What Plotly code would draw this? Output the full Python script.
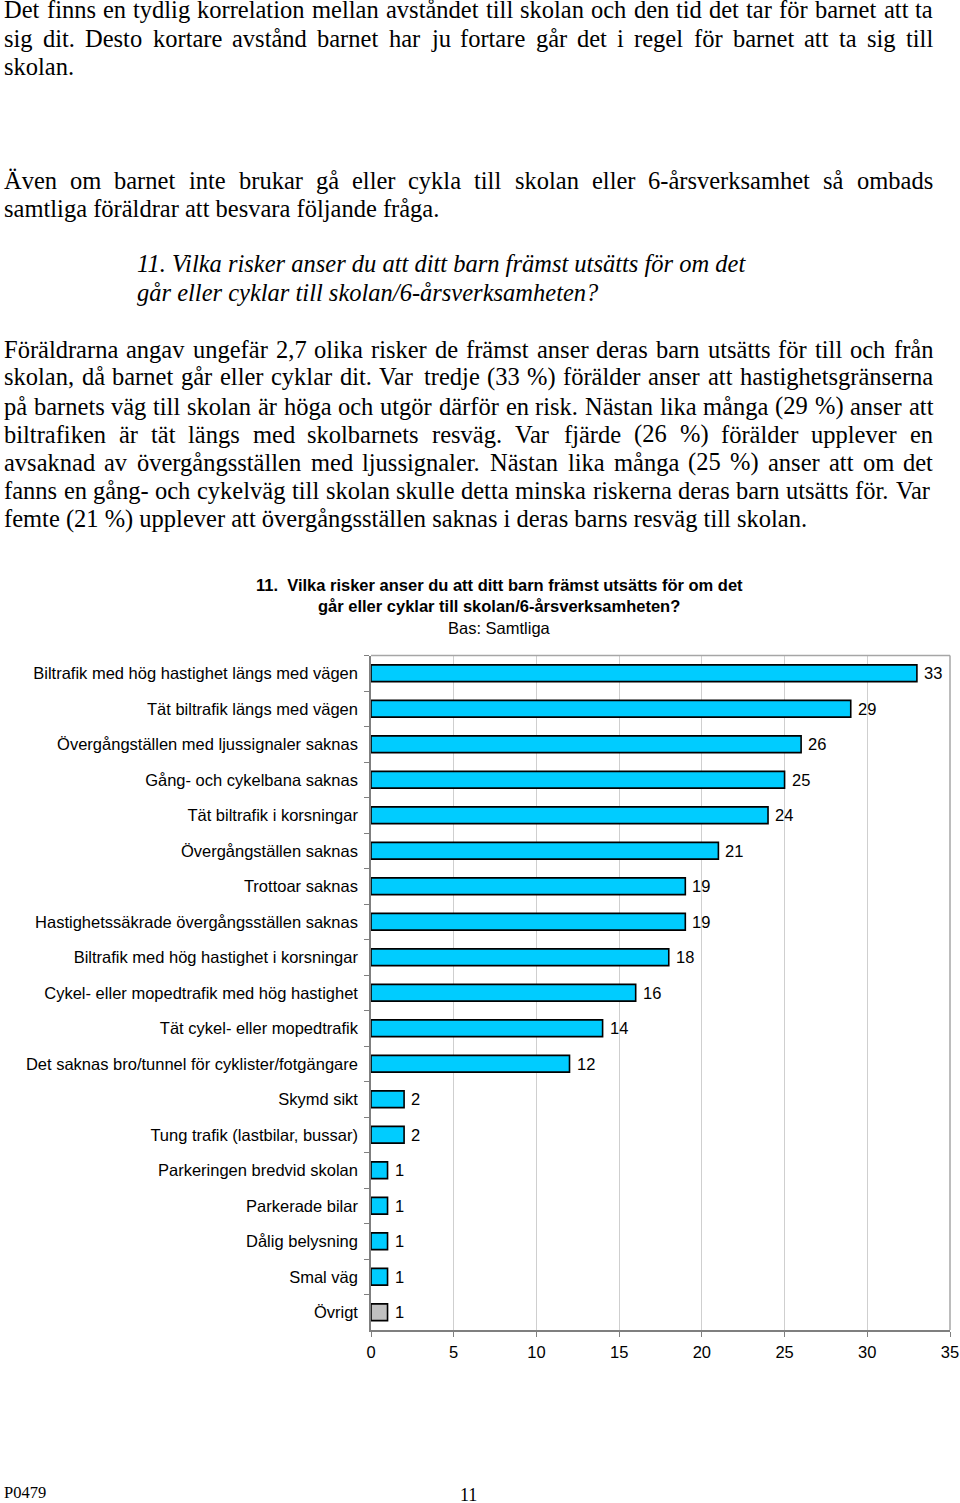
import plotly.graph_objects as go

W, H = 960, 1503

# ---------------- data ----------------
categories = [
    "Biltrafik med hög hastighet längs med vägen",
    "Tät biltrafik längs med vägen",
    "Övergångställen med ljussignaler saknas",
    "Gång- och cykelbana saknas",
    "Tät biltrafik i korsningar",
    "Övergångställen saknas",
    "Trottoar saknas",
    "Hastighetssäkrade övergångsställen saknas",
    "Biltrafik med hög hastighet i korsningar",
    "Cykel- eller mopedtrafik med hög hastighet",
    "Tät cykel- eller mopedtrafik",
    "Det saknas bro/tunnel för cyklister/fotgängare",
    "Skymd sikt",
    "Tung trafik (lastbilar, bussar)",
    "Parkeringen bredvid skolan",
    "Parkerade bilar",
    "Dålig belysning",
    "Smal väg",
    "Övrigt",
]
values = [33, 29, 26, 25, 24, 21, 19, 19, 18, 16, 14, 12, 2, 2, 1, 1, 1, 1, 1]
x_ticks = [0, 5, 10, 15, 20, 25, 30, 35]

chart_title = [
    "<b>11.&nbsp; Vilka risker anser du att ditt barn främst utsätts för om det</b>",
    "<b>går eller cyklar till skolan/6-årsverksamheten?</b>",
    "Bas: Samtliga",
]

# page text: (text, justified?)
para1 = [
    ("Det finns en tydlig korrelation mellan avståndet till skolan och den tid det tar för barnet att ta", True),
    ("sig dit. Desto kortare avstånd barnet har ju fortare går det i regel för barnet att ta sig till", True),
    ("skolan.", False),
]
para2 = [
    ("Även om barnet inte brukar gå eller cykla till skolan eller 6-årsverksamhet så ombads", True),
    ("samtliga föräldrar att besvara följande fråga.", False),
]
question = [
    "11. Vilka risker anser du att ditt barn främst utsätts för om det",
    "går eller cyklar till skolan/6-årsverksamheten?",
]
para3 = [
    ("Föräldrarna angav ungefär 2,7 olika risker de främst anser deras barn utsätts för till och från", True),
    ("skolan, då barnet går eller cyklar dit. Var tredje (33 %) förälder anser att hastighetsgränserna", True),
    ("på barnets väg till skolan är höga och utgör därför en risk. Nästan lika många (29 %) anser att", True),
    ("biltrafiken är tät längs med skolbarnets resväg. Var fjärde (26 %) förälder upplever en", True),
    ("avsaknad av övergångsställen med ljussignaler. Nästan lika många (25 %) anser att om det", True),
    ("fanns en gång- och cykelväg till skolan skulle detta minska riskerna deras barn utsätts för. Var", True),
    ("femte (21 %) upplever att övergångsställen saknas i deras barns resväg till skolan.", False),
]

# ---------------- styling ----------------
SERIF = "Liberation Serif, Times New Roman, serif"
SANS = "Liberation Sans, Arial, sans-serif"
FS_BODY = 24.5
FS_CHART = 16.5

# Times-Roman glyph widths (per 1000 em) for justification
TW = dict(zip("abcdefghijklmnopqrstuvwxyz",
              [444, 500, 444, 500, 444, 333, 500, 500, 278, 278, 500, 278, 778,
               500, 500, 500, 500, 333, 389, 278, 500, 500, 722, 500, 500, 444]))
TW.update(dict(zip("ABCDEFGHIJKLMNOPQRSTUVWXYZ",
                   [722, 667, 667, 722, 611, 556, 722, 722, 333, 389, 722, 611, 889,
                    722, 722, 556, 722, 667, 556, 611, 722, 722, 944, 722, 722, 611])))
TW.update({" ": 250, ".": 250, ",": 250, ":": 278, ";": 278, "(": 333, ")": 333,
           "%": 833, "-": 333, "/": 278, "?": 444, "å": 444, "ä": 444, "ö": 500,
           "Å": 722, "Ä": 722, "Ö": 722})
for d in "0123456789":
    TW[d] = 500


def word_w(w, fs):
    return sum(TW.get(ch, 500) for ch in w) * fs / 1000.0


def px(x):
    return x / W


def py(y):
    return 1 - y / H


annotations = []


def add_text(text, x, y, size, family, anchor="left", color="black"):
    annotations.append(dict(
        text=text, x=px(x), y=py(y), xref="paper", yref="paper",
        xanchor=anchor, yanchor="middle", showarrow=False,
        font=dict(family=family, size=size, color=color),
        borderpad=0, borderwidth=0,
    ))


def add_line(text, justified, y, x0=4, x1=933):
    if not justified:
        add_text(text, x0, y, FS_BODY, SERIF)
        return
    words = text.split(" ")
    widths = [word_w(w, FS_BODY) for w in words]
    gap = (x1 - x0 - sum(widths)) / (len(words) - 1)
    x = x0
    for w, wd in zip(words, widths):
        add_text(w, x, y, FS_BODY, SERIF)
        x += wd + gap


for (t, j), y in zip(para1, [10, 38, 67]):
    add_line(t, j, y)
for (t, j), y in zip(para2, [180, 208]):
    add_line(t, j, y)
for t, y in zip(question, [264, 292]):
    add_text("<i>" + t + "</i>", 137, y, FS_BODY, SERIF)
for (t, j), y in zip(para3, [349, 377, 406, 434, 462, 491, 519]):
    add_line(t, j, y)

# chart title
for t, y in zip(chart_title, [585, 606, 628]):
    add_text(t, 499, y, FS_CHART, SANS, anchor="center")

# footer
add_text("P0479", 4, 1492, 16.5, SERIF)
add_text("11", 468, 1495, 18, SERIF, anchor="center")

# value labels
for c, v in zip(categories, values):
    annotations.append(dict(
        text=str(v), x=v, y=c, xref="x", yref="y", xanchor="left", yanchor="middle",
        xshift=5, showarrow=False, font=dict(family=SANS, size=FS_CHART, color="black"),
    ))

bar_colors = ["#C0C0C0" if c == "Övrigt" else "#00CCFF" for c in categories]

fig = go.Figure(go.Bar(
    x=values, y=categories, orientation="h", width=0.47,
    marker=dict(color=bar_colors, line=dict(color="black", width=1.6)),
    hoverinfo="skip",
))

PLOT_L, PLOT_R, PLOT_T, PLOT_B = 371, 950, 655.5, 1330

fig.update_layout(
    width=W, height=H,
    margin=dict(l=0, r=0, t=0, b=0, pad=0, autoexpand=False),
    paper_bgcolor="white", plot_bgcolor="white",
    showlegend=False,
    xaxis=dict(
        domain=[px(PLOT_L), px(PLOT_R)], range=[0, 35], tickvals=x_ticks,
        showgrid=True, gridcolor="#CFCFCF", gridwidth=1, zeroline=False,
        showline=True, linecolor="#7F7F7F", linewidth=1.5,
        ticks="outside", ticklen=5, tickcolor="#7F7F7F",
        tickfont=dict(family=SANS, size=FS_CHART, color="black"),
        ticklabelstandoff=1, fixedrange=True, automargin=False,
    ),
    yaxis=dict(
        domain=[py(PLOT_B), py(PLOT_T)], type="category",
        categoryorder="array", categoryarray=categories,
        range=[len(categories) - 0.5, -0.5],
        showgrid=False, zeroline=False,
        showline=True, linecolor="#7F7F7F", linewidth=1.5,
        ticks="outside", tickson="boundaries", ticklen=5, tickcolor="#7F7F7F",
        tickfont=dict(family=SANS, size=FS_CHART, color="black"),
        ticklabelstandoff=8, fixedrange=True, automargin=False,
    ),
    annotations=annotations,
    shapes=[
        dict(type="line", xref="paper", yref="paper",
             x0=px(PLOT_L), x1=px(PLOT_R), y0=py(PLOT_T), y1=py(PLOT_T),
             line=dict(color="#A6A6A6", width=1.5)),
        dict(type="line", xref="paper", yref="paper",
             x0=px(PLOT_R), x1=px(PLOT_R), y0=py(PLOT_B), y1=py(PLOT_T),
             line=dict(color="#A6A6A6", width=1.5)),
    ],
)

fig.write_html(
    "out.html",
    config={"displayModeBar": False},
    post_script="document.body.style.margin='0px';document.body.style.overflow='hidden';",
)
